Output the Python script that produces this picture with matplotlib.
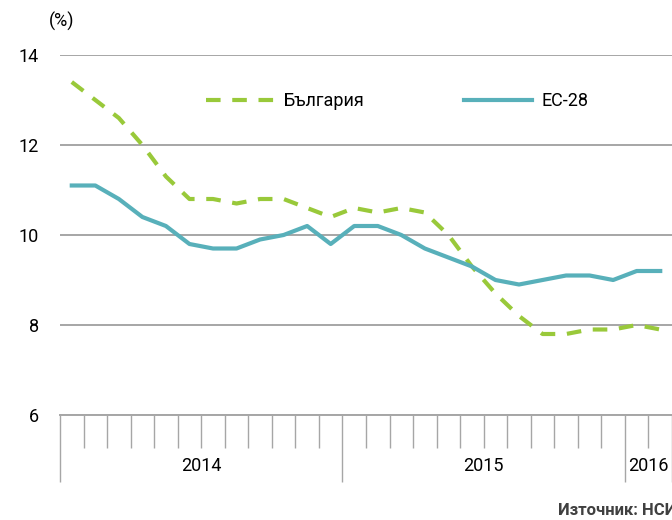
import numpy as np
import matplotlib
matplotlib.use("Agg")
import matplotlib.pyplot as plt

plt.rcParams['font.family'] = ['Roboto', 'DejaVu Sans']

# Monthly unemployment rate, Jan 2014 - Feb 2016
months = ['01.2014', '02.2014', '03.2014', '04.2014', '05.2014', '06.2014',
          '07.2014', '08.2014', '09.2014', '10.2014', '11.2014', '12.2014',
          '01.2015', '02.2015', '03.2015', '04.2015', '05.2015', '06.2015',
          '07.2015', '08.2015', '09.2015', '10.2015', '11.2015', '12.2015',
          '01.2016', '02.2016']
bulgaria = [13.4, 13.0, 12.6, 12.0, 11.3, 10.8, 10.8, 10.7, 10.8, 10.8, 10.6, 10.4,
            10.6, 10.5, 10.6, 10.5, 10.0, 9.3, 8.7, 8.2, 7.8, 7.8, 7.9, 7.9,
            8.0, 7.9]
eu28 = [11.1, 11.1, 10.8, 10.4, 10.2, 9.8, 9.7, 9.7, 9.9, 10.0, 10.2, 9.8,
        10.2, 10.2, 10.0, 9.7, 9.5, 9.3, 9.0, 8.9, 9.0, 9.1, 9.1, 9.0,
        9.2, 9.2]
years = ['2014', '2015', '2016']
months_per_year = [12, 12, 2]

green = '#99C93A'
teal = '#58B0BA'
grid_gray = '#A6A6A6'

fig = plt.figure(figsize=(6.72, 5.2), dpi=100)
ax = fig.add_axes([60 / 672, 105 / 520, 1 - 60 / 672, 360 / 520])

x = np.arange(len(months))
ax.plot(x, bulgaria, color=green, lw=3, dashes=(3.5, 2.8), label='България')
ax.plot(x, eu28, color=teal, lw=3, label='ЕС-28')

ax.set_xlim(-0.5, len(months) - 0.5)
ax.set_ylim(6, 14)
ax.set_yticks([6, 8, 10, 12, 14])
ax.yaxis.grid(True, color=grid_gray, lw=1.4)
ax.set_axisbelow(True)
ax.tick_params(axis='y', length=0, pad=15, labelsize=13)

for side in ['top', 'right', 'left']:
    ax.spines[side].set_visible(False)
ax.spines['bottom'].set_color(grid_gray)
ax.spines['bottom'].set_linewidth(1.4)

# category axis: short ticks between months, long ticks between years
bounds = np.cumsum([0] + months_per_year) - 0.5
ax.set_xticks(bounds)
ax.set_xticklabels([])
ax.set_xticks(np.arange(len(months) + 1) - 0.5, minor=True)
ax.tick_params(axis='x', which='major', length=48, width=1.0, color=grid_gray)
ax.tick_params(axis='x', which='minor', length=24, width=1.0, color=grid_gray)

for i, yr in enumerate(years):
    xc = (bounds[i] + bounds[i + 1]) / 2
    ax.annotate(yr, xy=(xc, 0), xycoords=('data', 'axes fraction'),
                xytext=(0, -37), textcoords='offset points',
                ha='center', va='center', fontsize=13)

fig.text(62 / 672, 1 - 21 / 520, '(%)', ha='center', va='center', fontsize=13)

fig.legend(loc='center left', bbox_to_anchor=(197 / 672, 1 - 101 / 520),
           ncol=2, frameon=False, fontsize=13, handlelength=3.8,
           handletextpad=0.5, columnspacing=5.5, borderpad=0)

fig.text(558 / 672, 1 - 510 / 520, 'Източник: НСИ, Евростат',
         ha='left', va='center', fontsize=12, fontweight='bold', color='#404040')

fig.savefig('out.png', dpi=100)
